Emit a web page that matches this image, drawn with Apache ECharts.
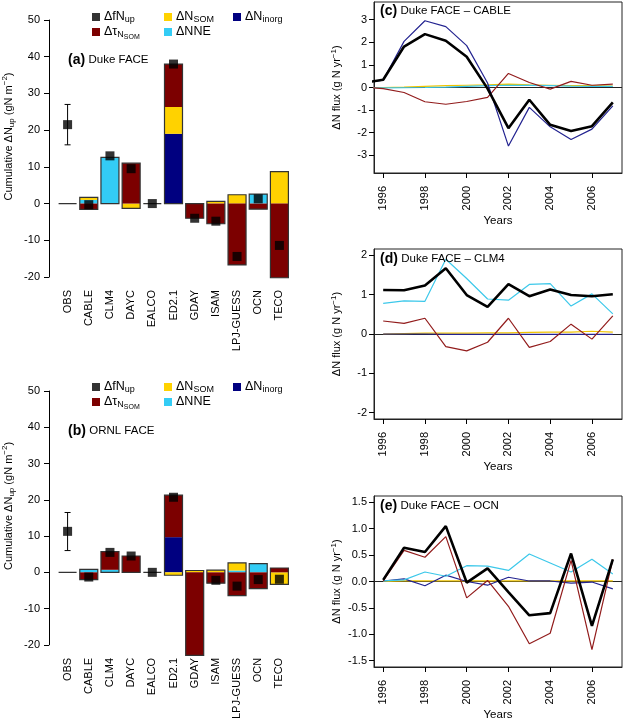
<!DOCTYPE html>
<html><head><meta charset="utf-8">
<script src="https://cdn.jsdelivr.net/npm/echarts@6.0.0/dist/echarts.min.js"></script>
<style>html,body{margin:0;padding:0;background:#fff}#c{width:624px;height:722px}</style>
</head><body><div id="c"></div>
<script>
// ---------- data ----------
const models = ['OBS','CABLE','CLM4','DAYC','EALCO','ED2.1','GDAY','ISAM','LPJ-GUESS','OCN','TECO'];
// Duke FACE cumulative components (gN m-2)
const dukeInorg = [0,0,0,0,0,19,0,0,0,0,0];
const dukeNNE   = [0,1.0,12.6,0,0,0,0,0,0,2.6,0];
const dukeSOM   = [0,0.7,0,-1.3,0,7.3,0,0.6,2.4,0,8.7];
const dukeTau   = [0,-1.6,0,11,0,11.7,-4.0,-5.5,-16.7,-1.5,-20.2];
const dukeFNup  = [21.5,-0.3,13,9.5,0,38,-4.0,-4.8,-14.4,1.3,-11.4];
const dukeObsErr = [16,27];
// ORNL FACE
const ornlInorg = [0,0,0,0,0,9.7,0,0,0,0,0];
const ornlNNE   = [0,0.8,0.7,0,0,0,0,0,0.5,2.4,0];
const ornlSOM   = [0,0,0,0,0,-0.8,0.5,0.6,2.1,0,-3.3];
const ornlTau   = [0,-2.0,5.0,4.5,0,11.6,-22.9,-3.0,-6.4,-4.5,1.2];
const ornlFNup  = [11.3,-1.3,5.5,4.5,0,20.7,null,-2.2,-3.8,-2.0,-1.9];
const ornlObsErr = [6,16.5];
// annual fluxes (g N yr-1)
const yearsC  = [1995,1996,1997,1998,1999,2000,2001,2002,2003,2004,2005,2006,2007];
const cFNup   = [0.2,0.34,1.81,2.36,2.07,1.36,-0.05,-1.80,-0.54,-1.65,-1.92,-1.71,-0.66];
const cInorg  = [0.2,0.33,2.04,2.95,2.69,1.85,0.2,-2.59,-0.88,-1.74,-2.30,-1.84,-0.81];
const cTau    = [0.02,-0.05,-0.22,-0.63,-0.74,-0.62,-0.44,0.62,0.22,-0.07,0.27,0.10,0.15];
const cNNE    = [0,-0.02,-0.01,0.0,0.02,0.05,0.08,0.1,0.09,0.08,0.06,0.05,0.05];
const cSOM    = [0,0.0,0.02,0.05,0.08,0.1,0.12,0.15,0.12,0.1,0.08,0.08,0.06];
const yearsDE = [1996,1997,1998,1999,2000,2001,2002,2003,2004,2005,2006,2007];
const dFNup   = [1.12,1.11,1.23,1.67,0.99,0.69,1.27,0.96,1.13,0.99,0.96,1.01];
const dNNE    = [0.78,0.84,0.83,1.9,1.41,0.89,0.86,1.26,1.28,0.71,1.02,0.51];
const dTau    = [0.33,0.27,0.40,-0.32,-0.43,-0.21,0.40,-0.34,-0.19,0.25,-0.13,0.46];
const dSOM    = [0.0,0.01,0.02,0.02,0.02,0.03,0.03,0.04,0.05,0.05,0.07,0.05];
const dInorg  = [0,0,0,-0.01,-0.01,-0.01,-0.01,-0.01,-0.01,-0.01,-0.01,-0.01];
const eFNup   = [0.03,0.64,0.56,1.05,-0.02,0.25,-0.2,-0.64,-0.60,0.53,-0.84,0.42];
const eTau    = [0.01,0.59,0.46,0.85,-0.31,0.02,-0.47,-1.18,-0.98,0.40,-1.29,0.42];
const eNNE    = [0.01,0.03,0.18,0.10,0.30,0.29,0.21,0.52,0.35,0.18,0.42,0.14];
const eInorg  = [0.01,0.05,-0.08,0.12,0.0,-0.07,0.08,0.01,0.01,-0.03,-0.01,-0.14];
const eSOM    = [0.0,0.01,0.01,0.01,0.01,0.01,0.01,0.01,0.01,0.01,0.01,0.01];
const yearTicks = [1996,1998,2000,2002,2004,2006];
const cTicks = [-3,-2,-1,0,1,2,3];
const dTicks = [-2,-1,0,1,2];
const eTicks = [-1.5,-1,-0.5,0,0.5,1,1.5];

// ---------- style ----------
const FONT = 'Liberation Sans, Arial, Helvetica, sans-serif';
const COL = {tau:'#7c0000', SOM:'#ffd200', NNE:'#33ccf5', inorg:'#000080', fNup:'#000'};
const LCOL = {tau:'#921c1c', SOM:'#f0c400', NNE:'#3cc8ea', inorg:'#232390', fNup:'#000'};
const BARW = 18;

const chart = echarts.init(document.getElementById('c'));

const richSub = {
  sub:{fontSize:9, lineHeight:11, padding:[0,0,2,0], verticalAlign:'bottom', fontFamily:FONT, color:'#000'},
  ss:{fontSize:7, lineHeight:7, verticalAlign:'bottom', fontFamily:FONT, color:'#000'},
  sup:{fontSize:8, lineHeight:8, verticalAlign:'top', fontFamily:FONT, color:'#000'}
};
const legendLabels = {
  fNup:'ΔfN{sub|up}', tau:'Δτ{sub|N}{ss|SOM}', SOM:'ΔN{sub|SOM}', NNE:'ΔNNE', inorg:'ΔN{sub|inorg}'
};

function sums(arrs){
  const pos = [], neg = [];
  for (let i=0;i<models.length;i++){
    let p=0,n=0; arrs.forEach(a=>{const v=a[i]||0; if(v>0)p+=v; else n+=v;});
    pos.push(p); neg.push(n);
  }
  return {pos,neg};
}

const grids = [
  {left:57, width:233, top:20, height:257},
  {left:57, width:233, top:391, height:257},
  {left:374, right:2, top:2, height:171, show:true, borderColor:'#222', borderWidth:1},
  {left:374, right:2, top:249, height:170, show:true, borderColor:'#222', borderWidth:1},
  {left:374, right:2, top:496, height:171, show:true, borderColor:'#222', borderWidth:1}
];

const xAxes = [], yAxes = [], series = [];
const axisText = {color:'#000', fontSize:11, fontFamily:FONT};

function barPanel(gi, inorg, nne, som, tau, fnup, err){
  xAxes.push({gridIndex:gi, type:'category', data:models, axisLine:{show:false}, axisTick:{show:false},
    axisLabel:Object.assign({rotate:90, margin:13, interval:0}, axisText)});
  yAxes.push({gridIndex:gi, type:'value', min:-20, max:50, interval:10, offset:8,
    axisLine:{show:true, lineStyle:{color:'#000', width:1}}, axisTick:{show:true, length:5, lineStyle:{color:'#000'}},
    axisLabel:Object.assign({margin:9}, axisText), splitLine:{show:false},
    name:'Cumulative ΔN{sub|up} (gN m{sup|−2})', nameLocation:'middle', nameGap:33, nameRotate:90,
    nameTextStyle:{fontSize:11, lineHeight:15, fontFamily:FONT, color:'#000', padding:[0,0,0,24],
      rich:{sub:{fontSize:8, lineHeight:8, verticalAlign:'bottom', fontFamily:FONT, color:'#000'},
            sup:{fontSize:8, lineHeight:8, verticalAlign:'top', fontFamily:FONT, color:'#000'}}}});
  const comps = [['inorg',inorg],['NNE',nne],['SOM',som],['tau',tau]];
  comps.forEach(([k,arr])=>{
    series.push({name:k, type:'bar', xAxisIndex:gi, yAxisIndex:gi, stack:'s'+gi, data:arr, barWidth:BARW,
      clip:false, itemStyle:{color:COL[k]}, emphasis:{disabled:true}, z:2});
  });
  const s = sums([inorg,nne,som,tau]);
  series.push({type:'custom', xAxisIndex:gi, yAxisIndex:gi, z:3, clip:false, silent:true,
    data: models.map((m,i)=>[i, s.pos[i], s.neg[i]]),
    renderItem:(params, api)=>{
      const top = api.coord([api.value(0), api.value(1)]);
      const bot = api.coord([api.value(0), api.value(2)]);
      const x0 = top[0]-BARW/2, x1 = top[0]+BARW/2;
      return {type:'polygon', shape:{points:[[x0,top[1]],[x1,top[1]],[x1,bot[1]],[x0,bot[1]]]},
        style:{fill:'none', stroke:'#333', lineWidth:1.2}};
    }});
  series.push({type:'custom', xAxisIndex:gi, yAxisIndex:gi, z:4, silent:true,
    data:[[0, err[0], err[1]]],
    renderItem:(params, api)=>{
      const a = api.coord([api.value(0), api.value(1)]);
      const b = api.coord([api.value(0), api.value(2)]);
      const st = {stroke:'#000', lineWidth:1};
      return {type:'group', children:[
        {type:'line', shape:{x1:a[0],y1:a[1],x2:b[0],y2:b[1]}, style:st},
        {type:'line', shape:{x1:a[0]-3,y1:a[1],x2:a[0]+3,y2:a[1]}, style:st},
        {type:'line', shape:{x1:b[0]-3,y1:b[1],x2:b[0]+3,y2:b[1]}, style:st}
      ]};
    }});
  series.push({name:'fNup', type:'scatter', xAxisIndex:gi, yAxisIndex:gi, data:fnup, symbol:'rect', symbolSize:9,
    itemStyle:{color:'#000'}, z:5, clip:false});
}

function linePanel(gi, yMin, yMax, yT, years, lines){
  xAxes.push({gridIndex:gi, type:'value', min:1995.56, max:2007.44,
    axisLine:{show:true, onZero:false, lineStyle:{color:'#222'}},
    axisTick:{show:true, length:5, customValues:yearTicks, lineStyle:{color:'#000'}},
    axisLabel:Object.assign({rotate:90, margin:13, customValues:yearTicks, formatter:(v)=>String(v)}, axisText),
    splitLine:{show:false}, name:'Years', nameLocation:'middle', nameGap:41,
    nameTextStyle:{fontSize:11.5, fontFamily:FONT, color:'#000'}});
  yAxes.push({gridIndex:gi, type:'value', min:yMin, max:yMax,
    axisLine:{show:true, lineStyle:{color:'#222'}},
    axisTick:{show:true, length:5, customValues:yT, lineStyle:{color:'#000'}},
    axisLabel:Object.assign({margin:7, customValues:yT,
      formatter:(v)=> (gi===4 ? v.toFixed(1) : String(v))}, axisText),
    splitLine:{show:false},
    name:'ΔN flux (g N yr{sup|−1})', nameLocation:'middle', nameGap:30, nameRotate:90,
    nameTextStyle:{fontSize:11, lineHeight:14, fontFamily:FONT, color:'#000',
      rich:{sup:{fontSize:8, lineHeight:8, verticalAlign:'top', fontFamily:FONT, color:'#000'}}}});
  lines.forEach(([k,arr],idx)=>{
    const s = {name:k, type:'line', xAxisIndex:gi, yAxisIndex:gi, data:years.map((y,i)=>[y,arr[i]]),
      symbol:'none', lineStyle:{color:LCOL[k], width:k==='fNup'?2.6:1.2}, itemStyle:{color:LCOL[k]},
      emphasis:{disabled:true}, z:k==='fNup'?6:3};
    if (idx===0) s.markLine = {silent:true, symbol:'none', label:{show:false},
      lineStyle:{color:'#222', width:1, type:'solid'}, data:[{yAxis:0}], z:2};
    series.push(s);
  });
}

barPanel(0, dukeInorg, dukeNNE, dukeSOM, dukeTau, dukeFNup, dukeObsErr);
barPanel(1, ornlInorg, ornlNNE, ornlSOM, ornlTau, ornlFNup, ornlObsErr);
linePanel(2, -3.78, 3.78, cTicks, yearsC, [['SOM',cSOM],['NNE',cNNE],['tau',cTau],['inorg',cInorg],['fNup',cFNup]]);
linePanel(3, -2.16, 2.16, dTicks, yearsDE, [['SOM',dSOM],['inorg',dInorg],['tau',dTau],['NNE',dNNE],['fNup',dFNup]]);
linePanel(4, -1.62, 1.62, eTicks, yearsDE, [['SOM',eSOM],['inorg',eInorg],['NNE',eNNE],['tau',eTau],['fNup',eFNup]]);

// legends (one per item, arranged in columns)
const legendLayout = [['fNup',0,0],['SOM',1,0],['inorg',2,0],['tau',0,1],['NNE',1,1]];
const colX = [92, 164, 233];
const legends = [];
[[17,32],[387,402]].forEach(rows=>{
  legendLayout.forEach(([k,c,r])=>{
    legends.push({data:[{name:k, icon:'rect', itemStyle:{color:COL[k]}}], left:colX[c], top:rows[r]-9,
      itemWidth:8, itemHeight:8, itemGap:0, padding:0, selectedMode:false,
      formatter:(n)=>legendLabels[n],
      textStyle:{fontSize:12.5, lineHeight:18, fontFamily:FONT, color:'#000', padding:[0,0,0,-1], rich:richSub}});
  });
});

const titleRich = {b:{fontSize:14, fontWeight:'bold', fontFamily:FONT, color:'#000'},
                   n:{fontSize:11.5, fontWeight:'normal', fontFamily:FONT, color:'#000'}};
const titles = [
  ['{b|(a)} {n|Duke FACE}', 68, 53],
  ['{b|(b)} {n|ORNL FACE}', 68, 424],
  ['{b|(c)} {n|Duke FACE – CABLE}', 380, 4],
  ['{b|(d)} {n|Duke FACE – CLM4}', 380, 252],
  ['{b|(e)} {n|Duke FACE – OCN}', 380, 499]
].map(([t,l,tp])=>({text:t, left:l, top:tp, padding:0,
  textStyle:{rich:titleRich, fontSize:12, fontWeight:'normal', fontFamily:FONT}}));

chart.setOption({
  animation:false,
  textStyle:{fontFamily:FONT},
  title:titles,
  legend:legends,
  grid:grids,
  xAxis:xAxes,
  yAxis:yAxes,
  series:series
});
</script>
</body></html>
